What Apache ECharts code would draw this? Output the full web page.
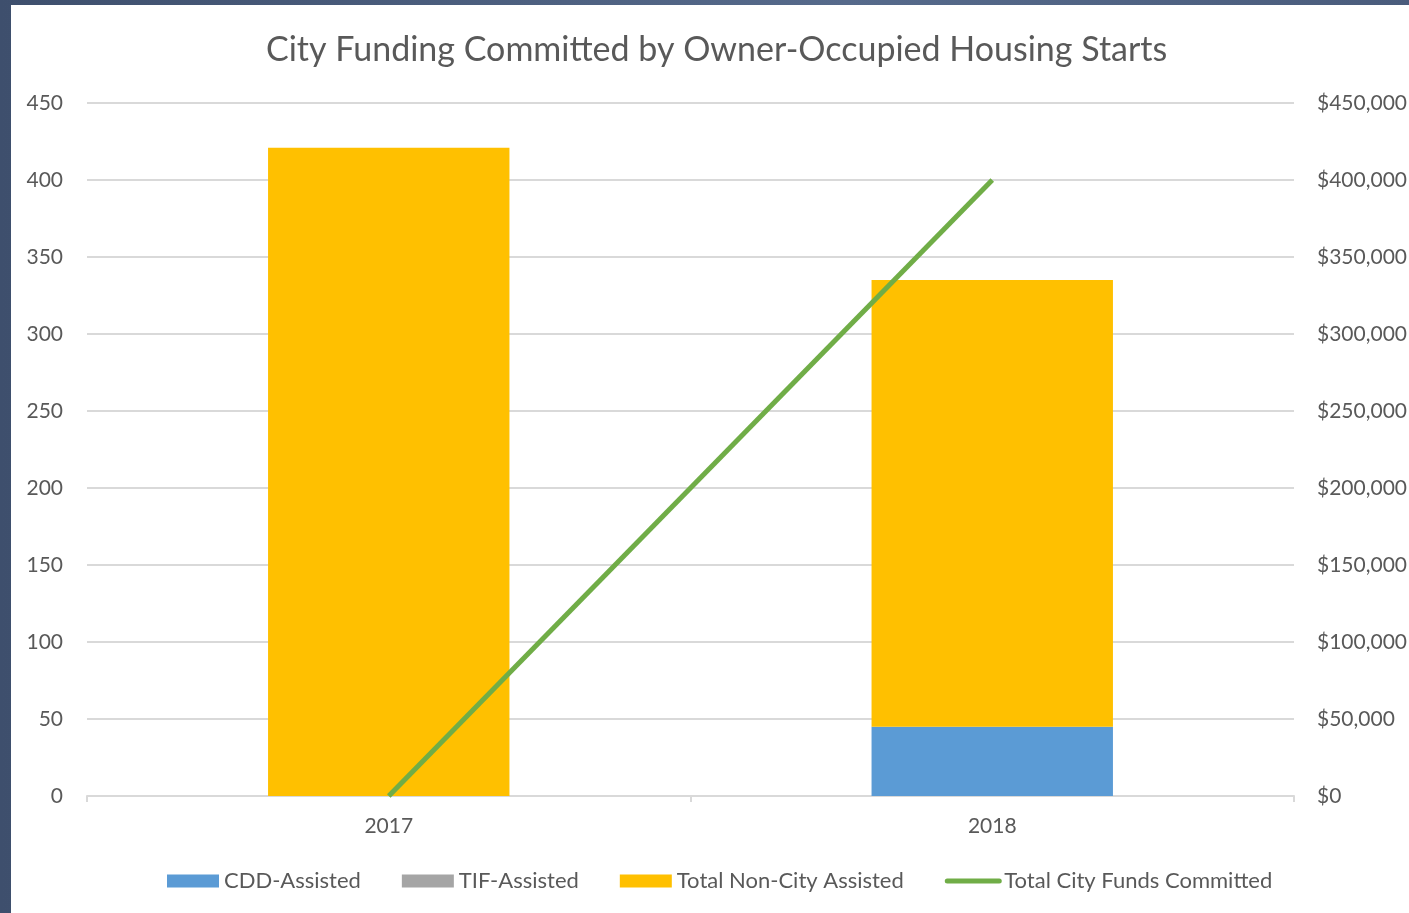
<!DOCTYPE html>
<html>
<head>
<meta charset="utf-8">
<script src="https://cdn.jsdelivr.net/npm/echarts@6/dist/echarts.min.js"></script>
<style>
html, body {
  margin: 0;
  padding: 0;
  width: 1409px;
  height: 913px;
  overflow: hidden;
  background: linear-gradient(90deg, #3e4f6d 0%, #566a8b 60%, #4a5c7c 100%);
}
#chart {
  position: absolute;
  left: 11px;
  top: 5px;
  width: 1398px;
  height: 908px;
  background: #ffffff;
}
</style>
</head>
<body>
<div id="chart"></div>
<script>
// categories and values
const years = ['2017', '2018'];
const cddAssisted = [0, 45];
const tifAssisted = [0, 0];
const nonCityAssisted = [421, 290];
const cityFunds = [0, 400000];

const textColor = '#595959';
const fontName = 'Lato';

var myChart = echarts.init(document.getElementById('chart'));
let option = {
  textStyle: { fontFamily: fontName },
  title: {
    text: 'City Funding Committed by Owner-Occupied Housing Starts',
    left: 250,
    top: 23,
    textStyle: {
      color: textColor,
      fontSize: 34,
      fontWeight: 'normal',
      fontFamily: fontName
    }
  },
  legend: {
    bottom: 16,
    left: 151,
    itemWidth: 52,
    itemHeight: 13,
    itemGap: 41,
    textStyle: { color: textColor, fontSize: 22, fontFamily: fontName },
    data: [
      { name: 'CDD-Assisted', icon: 'rect' },
      { name: 'TIF-Assisted', icon: 'rect' },
      { name: 'Total Non-City Assisted', icon: 'rect' },
      { name: 'Total City Funds Committed', itemStyle: { opacity: 0 }, lineStyle: { width: 5, cap: 'round' } }
    ]
  },
  grid: {
    left: 76,
    right: 115,
    top: 98,
    bottom: 117,
    outerBoundsMode: 'none'
  },
  xAxis: {
    type: 'category',
    data: years,
    axisLine: { lineStyle: { color: '#d9d9d9', width: 2 } },
    axisTick: { show: true, alignWithLabel: false, length: 6, lineStyle: { color: '#d9d9d9', width: 2 } },
    axisLabel: { color: textColor, fontSize: 21, margin: 20, fontFamily: fontName }
  },
  yAxis: [
    {
      type: 'value',
      min: 0,
      max: 450,
      interval: 50,
      axisLine: { show: false },
      axisTick: { show: false },
      axisLabel: { color: textColor, fontSize: 21, margin: 24, fontFamily: fontName },
      splitLine: { lineStyle: { color: '#d9d9d9', width: 2 } }
    },
    {
      type: 'value',
      min: 0,
      max: 450000,
      interval: 50000,
      axisLine: { show: false },
      axisTick: { show: false },
      splitLine: { show: false },
      axisLabel: {
        color: textColor,
        fontSize: 21,
        margin: 23,
        fontFamily: fontName,
        formatter: function (v) {
          return '$' + v.toLocaleString('en-US');
        }
      }
    }
  ],
  series: [
    {
      name: 'CDD-Assisted',
      type: 'bar',
      stack: 'starts',
      barWidth: '40%',
      itemStyle: { color: '#5b9bd5' },
      data: cddAssisted
    },
    {
      name: 'TIF-Assisted',
      type: 'bar',
      stack: 'starts',
      itemStyle: { color: '#a5a5a5' },
      data: tifAssisted
    },
    {
      name: 'Total Non-City Assisted',
      type: 'bar',
      stack: 'starts',
      itemStyle: { color: '#ffc000' },
      data: nonCityAssisted
    },
    {
      name: 'Total City Funds Committed',
      type: 'line',
      yAxisIndex: 1,
      symbol: 'none',
      z: 5,
      itemStyle: { color: '#70ad47' },
      lineStyle: { color: '#70ad47', width: 5 },
      data: cityFunds
    }
  ]
};

option && myChart.setOption(option);
</script>
</body>
</html>
